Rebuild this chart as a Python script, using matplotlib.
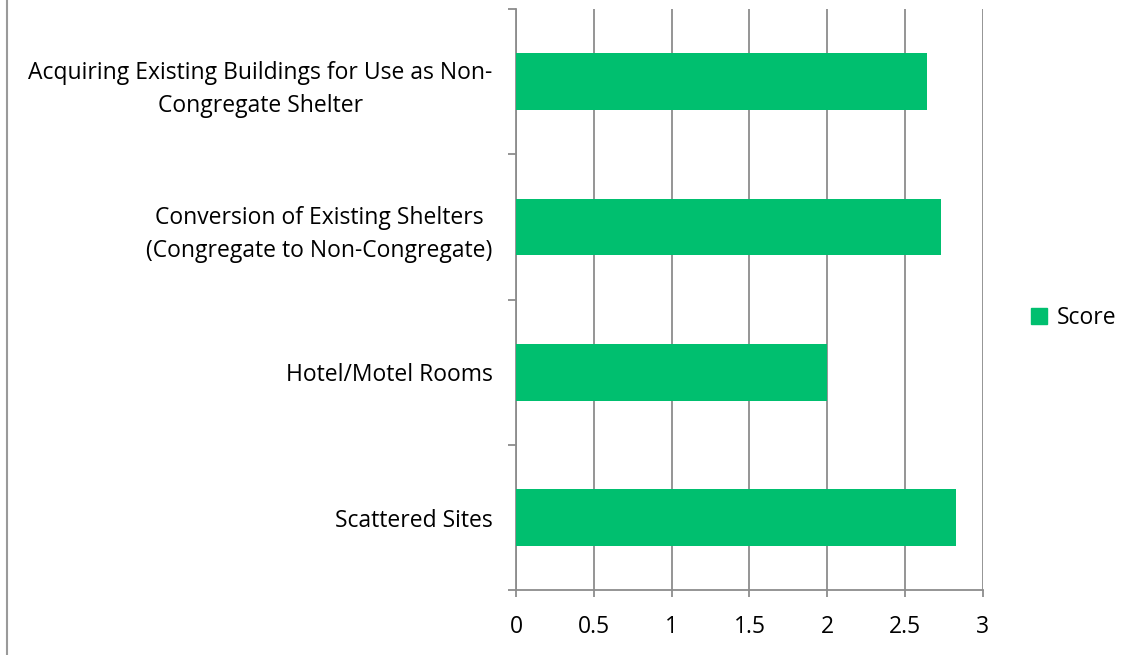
import matplotlib.pyplot as plt
from matplotlib.patches import Patch
from matplotlib.lines import Line2D

# data
categories = [
    "Scattered Sites",
    "Hotel/Motel Rooms",
    "Conversion of Existing Shelters\n(Congregate to Non-Congregate)",
    "Acquiring Existing Buildings for Use as Non-\nCongregate Shelter",
]
scores = [2.83, 2.0, 2.73, 2.64]
xticks = [0, 0.5, 1, 1.5, 2, 2.5, 3]
xticklabels = ["0", "0.5", "1", "1.5", "2", "2.5", "3"]

bar_color = "#00BF6F"
grid_color = "#8C8C8C"

plt.rcParams["font.family"] = ["Open Sans", "DejaVu Sans"]

fig = plt.figure(figsize=(11.27, 6.55), dpi=100)
ax = fig.add_axes([0.458, 0.099, 0.414, 0.887])

ypos = list(range(len(categories)))
ax.barh(ypos, scores, height=0.39, color=bar_color, zorder=3)

ax.set_xlim(0, 3)
ax.set_ylim(-0.5, len(categories) - 0.5)
ax.set_xticks(xticks)
ax.set_xticklabels(xticklabels, fontsize=16.5)
ax.set_yticks(ypos)
ax.set_yticklabels(categories, fontsize=16.5, multialignment="center",
                   linespacing=1.5)
ax.set_yticks([y - 0.5 for y in ypos] + [len(categories) - 0.5], minor=True)

ax.tick_params(axis="y", which="major", length=0, pad=17)
ax.tick_params(axis="y", which="minor", length=6, width=1.3,
               color=grid_color, direction="out")
ax.tick_params(axis="x", length=5, width=1.3, color=grid_color,
               direction="out", pad=13)

ax.grid(axis="x", color=grid_color, linewidth=1.3, zorder=0)
for side in ["top", "right"]:
    ax.spines[side].set_visible(False)
for side in ["left", "bottom"]:
    ax.spines[side].set_color(grid_color)
    ax.spines[side].set_linewidth(1.3)

# legend
fig.legend(handles=[Patch(color=bar_color, label="Score")],
           loc="center left", bbox_to_anchor=(0.905, 0.514),
           frameon=False, fontsize=16.5, handlelength=0.7, handleheight=0.7,
           handletextpad=0.4, borderpad=0)

# left chart border
fig.add_artist(Line2D([0.0065, 0.0065], [0, 1], transform=fig.transFigure,
                      color="#9A9A9A", linewidth=1.5))

fig.savefig("out.png", dpi=100)
